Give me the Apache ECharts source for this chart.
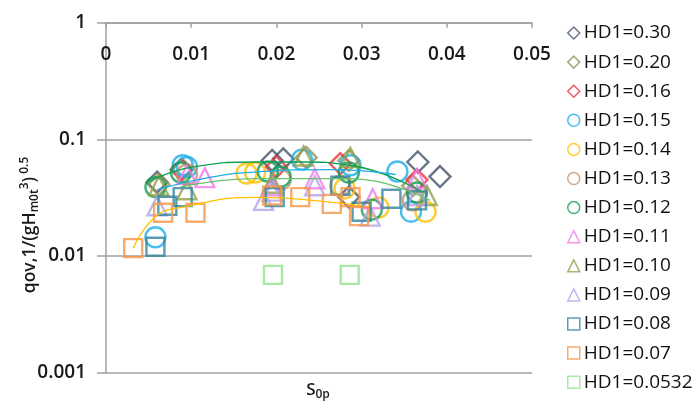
<!DOCTYPE html>
<html>
<head>
<meta charset="utf-8">
<script src="https://cdn.jsdelivr.net/npm/echarts@6/dist/echarts.min.js"></script>
<style>
html,body{margin:0;padding:0;background:#fff;}
#chart{width:700px;height:401px;}
</style>
</head>
<body>
<div id="chart"></div>
<script>
// ---- data ----
const xTickLabels = ['0', '0.01', '0.02', '0.03', '0.04', '0.05'];
const yTickLabels = ['0.001', '0.01', '0.1', '1'];
const seriesNames = ['HD1=0.30','HD1=0.20','HD1=0.16','HD1=0.15','HD1=0.14','HD1=0.13','HD1=0.12','HD1=0.11','HD1=0.10','HD1=0.09','HD1=0.08','HD1=0.07','HD1=0.0532'];
const seriesSymbols = ['diamond','diamond','diamond','circle','circle','circle','circle','triangle','triangle','triangle','rect','rect','rect'];
const seriesColors = ['#44546A','#8E9258','#E8353A','#1FAEE6','#FFC000','#C4946E','#0FA055','#F07CE8','#93A04C','#B3A2E6','#31849B','#F79646','#92E38C'];

const hd030 = [[0.0060,0.043],[0.0195,0.066],[0.0208,0.068],[0.0285,0.032],[0.0366,0.064],[0.0392,0.048]];
const hd020 = [[0.0062,0.041],[0.0090,0.055],[0.0235,0.070],[0.0285,0.066],[0.0360,0.040]];
const hd016 = [[0.0088,0.055],[0.0200,0.058],[0.0275,0.062],[0.0365,0.045]];
const hd015 = [[0.0058,0.0145],[0.0090,0.060],[0.0095,0.058],[0.0230,0.067],[0.0287,0.060],[0.0342,0.053],[0.0358,0.024]];
const hd014 = [[0.0165,0.051],[0.0175,0.052],[0.0280,0.038],[0.0320,0.026],[0.0375,0.024]];
const hd013 = [[0.0095,0.050],[0.0205,0.045],[0.0275,0.040],[0.0360,0.030]];
const hd012 = [[0.0058,0.039],[0.0088,0.052],[0.0190,0.053],[0.0205,0.048],[0.0285,0.052],[0.0312,0.025],[0.0365,0.035]];
const hd011 = [[0.0095,0.050],[0.0116,0.047],[0.0195,0.040],[0.0245,0.046],[0.0313,0.031],[0.0365,0.046]];
const hd010 = [[0.0062,0.040],[0.0095,0.037],[0.0195,0.042],[0.0232,0.072],[0.0287,0.070],[0.0377,0.033]];
const hd009 = [[0.0060,0.027],[0.0185,0.030],[0.0195,0.036],[0.0245,0.040],[0.0310,0.022],[0.0365,0.033]];
const hd008 = [[0.0058,0.012],[0.0072,0.027],[0.0090,0.032],[0.0198,0.032],[0.0275,0.040],[0.0300,0.024],[0.0335,0.031],[0.0365,0.030]];
const hd007 = [[0.0032,0.0117],[0.0067,0.0235],[0.0105,0.0235],[0.0195,0.033],[0.0228,0.032],[0.0265,0.028],[0.0287,0.032],[0.0297,0.022]];
const hd00532 = [[0.0196,0.0069],[0.0286,0.0069]];
const seriesData = [hd030,hd020,hd016,hd015,hd014,hd013,hd012,hd011,hd010,hd009,hd008,hd007,hd00532];

// trend lines
const trendGreen = [[0.0049,0.043],[0.0102,0.058],[0.0177,0.064],[0.0228,0.064],[0.0286,0.060],[0.0372,0.035]];
const trendCyan = [[0.0060,0.037],[0.0120,0.047],[0.0177,0.0526],[0.0263,0.055],[0.0340,0.050]];
const trendLight = [[0.0087,0.039],[0.0177,0.046],[0.0286,0.046],[0.0380,0.030]];
const trendYellow = [[0.0032,0.0117],[0.0058,0.0217],[0.0087,0.026],[0.0177,0.0318],[0.0263,0.029],[0.0298,0.027]];
const trendColors = ['#0FA055','#1FAEE6','#6CC070','#FFC000'];
const trendData = [trendGreen, trendCyan, trendLight, trendYellow];

// ---- chart ----
const chart = echarts.init(document.getElementById('chart'), null, {renderer:'canvas'});
const gridCol = '#A0A0A0';
const symbolSizes = {diamond:21, circle:20, triangle:19, rect:18};

const series = [];
seriesNames.forEach((n,i)=>{
  series.push({
    name: n, type: 'scatter', data: seriesData[i],
    symbol: seriesSymbols[i], symbolSize: symbolSizes[seriesSymbols[i]],
    itemStyle: {color: 'rgba(255,255,255,0)', borderColor: seriesColors[i], borderWidth: 2.4},
    emphasis: {disabled: true}, z: 3
  });
});
trendData.forEach((d,i)=>{
  series.push({
    type:'line', data:d, smooth:0.5, symbol:'none',
    lineStyle:{color:trendColors[i], width:1.3}, z:4, silent:true
  });
});

chart.setOption({
  animation: false,
  grid: {left: 106, right: 168, top: 22.7, bottom: 28.3, containLabel: false},
  xAxis: {
    type: 'value', min: 0, max: 0.05, interval: 0.01, position: 'top',
    axisLine: {show: true, onZero: false, lineStyle: {color: gridCol, width: 1.5}},
    axisTick: {show: true, inside: true, length: 5, lineStyle: {color: gridCol, width: 1.5}},
    splitLine: {show: false},
    axisLabel: {inside: true, margin: 22, color: '#1a1a1a', fontFamily: 'Open Sans', fontSize: 19, fontWeight: 600,
      formatter: v => xTickLabels[Math.round(v*100)] }
  },
  yAxis: {
    type: 'log', logBase: 10, min: 0.001, max: 1,
    axisLine: {show: true, lineStyle: {color: gridCol, width: 1.5}},
    axisTick: {show: true, inside: false, length: 9, lineStyle: {color: gridCol, width: 1.5}},
    splitLine: {show: true, lineStyle: {color: gridCol, width: 1.5}},
    minorTick: {show: false},
    axisLabel: {margin: 20, color: '#1a1a1a', fontFamily: 'Open Sans', fontSize: 19, fontWeight: 600,
      formatter: v => yTickLabels[Math.round(Math.log10(v))+3] }
  },
  legend: {
    orient: 'vertical', left: 567, top: 23, height: 378, padding: 0,
    itemWidth: 12, itemHeight: 12, itemGap: 9.1,
    data: seriesNames, selectedMode: false,
    itemStyle: {borderWidth: 1.5},
    textStyle: {fontFamily: 'Open Sans', fontSize: 19, color: '#111', lineHeight: 20, padding:[0,0,0,-1]}
  },
  graphic: [
    {type:'text', x: 30, y: 225, rotation: Math.PI/2, style: {
      text: '{a|qov,1/(gH}{s|m0t}{p|3}{a|)}{p| 0.5}',
      align: 'center', verticalAlign: 'middle',
      rich: {
        a: {fontFamily:'Open Sans', fontSize: 17.5, fontWeight: 600, fill:'#1a1a1a'},
        s: {fontFamily:'Open Sans', fontSize: 12, fontWeight: 600, fill:'#1a1a1a', padding:[10,0,0,0]},
        p: {fontFamily:'Open Sans', fontSize: 12, fontWeight: 600, fill:'#1a1a1a', padding:[0,0,10,0]}
      }
    }},
    {type:'text', x: 318, y: 390, style: {
      text: '{a|S}{s|0p}', align:'center', verticalAlign:'middle',
      rich: {
        a: {fontFamily:'Open Sans', fontSize: 17, fontWeight: 600, fill:'#1a1a1a'},
        s: {fontFamily:'Open Sans', fontSize: 12, fontWeight: 600, fill:'#1a1a1a', padding:[9,0,0,0]}
      }
    }}
  ],
  series: series
});
</script>
</body>
</html>
